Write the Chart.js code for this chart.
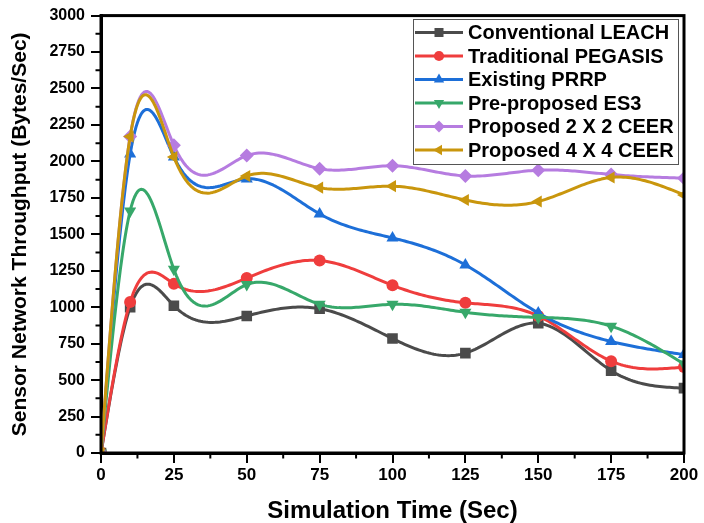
<!DOCTYPE html>
<html>
<head>
<meta charset="utf-8">
<script src="https://cdn.jsdelivr.net/npm/chart.js@4"></script>
<style>
  body { margin: 0; background: #fff; }
  #wrap { width: 704px; height: 523px; }
</style>
</head>
<body>
<div id="wrap"><canvas id="throughput-chart"></canvas></div>
<script>
const chartElement = document.getElementById('throughput-chart');

// simulation time (sec)
const timeLabels = [0, 10, 25, 50, 75, 100, 125, 150, 175, 200];

const leachValues   = [0, 1000, 1010, 940, 990, 785, 685, 890, 565, 445];
const pegasisValues = [0, 1035, 1160, 1200, 1320, 1150, 1030, 940, 630, 590];
const prrpValues    = [0, 2050, 2030, 1880, 1640, 1475, 1290, 960, 765, 675];
const es3Values     = [0, 1660, 1260, 1155, 1020, 1020, 965, 930, 870, 610];
const ceer2Values   = [0, 2170, 2110, 2040, 1950, 1970, 1900, 1940, 1910, 1885];
const ceer4Values   = [0, 2170, 2030, 1900, 1820, 1830, 1735, 1725, 1890, 1770];

const seriesNames = ['Conventional LEACH', 'Traditional PEGASIS', 'Existing PRRP',
  'Pre-proposed ES3', 'Proposed 2 X 2 CEER', 'Proposed 4 X 4 CEER'];

const FONT = "'Liberation Sans', Arial, sans-serif";

function makeSet(i, values, color, style, rotation, radius) {
  return {
    label: seriesNames[i],
    data: timeLabels.map((t, k) => ({x: t, y: values[k]})),
    borderColor: color,
    backgroundColor: color,
    pointStyle: style,
    rotation: rotation,
    pointRadius: radius,
    pointBorderWidth: 0,
    showLine: false,
    order: 6 - i,
  };
}

const data = {
  datasets: [
    makeSet(0, leachValues,   '#4b4b4b', 'rect', 0, 7.5),
    makeSet(1, pegasisValues, '#ef3d3d', 'circle', 0, 6),
    makeSet(2, prrpValues,    '#1d6fd8', 'triangle', 0, 7),
    makeSet(3, es3Values,     '#37a86a', 'triangle', 180, 7),
    makeSet(4, ceer2Values,   '#b67ce0', 'rectRot', 0, 7),
    makeSet(5, ceer4Values,   '#c9960d', 'triangle', -90, 7),
  ]
};

// natural cubic spline through the data, drawn with the chart's scales
function splineCoeffs(xs, ys) {
  const n = xs.length;
  const h = [], m = new Array(n).fill(0);
  for (let i = 0; i < n - 1; i++) h.push(xs[i + 1] - xs[i]);
  const a = [], b = [], c = [], d = [];
  for (let i = 1; i < n - 1; i++) {
    a.push(h[i - 1]);
    b.push(2 * (h[i - 1] + h[i]));
    c.push(h[i]);
    d.push(6 * ((ys[i + 1] - ys[i]) / h[i] - (ys[i] - ys[i - 1]) / h[i - 1]));
  }
  const k = b.length;
  for (let i = 1; i < k; i++) {
    const w = a[i] / b[i - 1];
    b[i] -= w * c[i - 1];
    d[i] -= w * d[i - 1];
  }
  const sol = new Array(k);
  for (let i = k - 1; i >= 0; i--) {
    sol[i] = (d[i] - (i < k - 1 ? c[i] * sol[i + 1] : 0)) / b[i];
  }
  for (let i = 0; i < k; i++) m[i + 1] = sol[i];
  return {h, m};
}

const splinePlugin = {
  id: 'splineLines',
  beforeDatasetDraw(chart, args) {
    const ds = chart.data.datasets[args.index];
    const xs = ds.data.map(p => p.x), ys = ds.data.map(p => p.y);
    const {h, m} = splineCoeffs(xs, ys);
    const sx = chart.scales.x, sy = chart.scales.y;
    const ctx = chart.ctx, area = chart.chartArea;
    ctx.save();
    ctx.beginPath();
    ctx.rect(area.left, area.top, area.right - area.left, area.bottom - area.top);
    ctx.clip();
    ctx.beginPath();
    ctx.lineWidth = 3;
    ctx.lineJoin = 'round';
    ctx.strokeStyle = ds.borderColor;
    for (let i = 0; i < xs.length - 1; i++) {
      const steps = 30;
      for (let s = 0; s <= steps; s++) {
        const t = xs[i] + h[i] * s / steps;
        const A = (xs[i + 1] - t) / h[i], B = (t - xs[i]) / h[i];
        const y = A * ys[i] + B * ys[i + 1] +
          ((A * A * A - A) * m[i] + (B * B * B - B) * m[i + 1]) * h[i] * h[i] / 6;
        const px = sx.getPixelForValue(t), py = sy.getPixelForValue(y);
        if (i === 0 && s === 0) ctx.moveTo(px, py); else ctx.lineTo(px, py);
      }
    }
    ctx.stroke();
    ctx.restore();
  }
};

const framePlugin = {
  id: 'frameAndLegend',
  afterDraw(chart) {
    const ctx = chart.ctx, a = chart.chartArea;
    const sx = chart.scales.x, sy = chart.scales.y;
    ctx.save();
    // minor ticks
    ctx.strokeStyle = '#000';
    ctx.lineWidth = 2;
    ctx.beginPath();
    for (let i = 0; i < sx.ticks.length - 1; i++) {
      const px = sx.getPixelForValue((sx.ticks[i].value + sx.ticks[i + 1].value) / 2);
      ctx.moveTo(px, a.bottom); ctx.lineTo(px, a.bottom + 5.5);
    }
    for (let i = 0; i < sy.ticks.length - 1; i++) {
      const py = sy.getPixelForValue((sy.ticks[i].value + sy.ticks[i + 1].value) / 2);
      ctx.moveTo(a.left, py); ctx.lineTo(a.left - 5.5, py);
    }
    ctx.stroke();
    // frame
    ctx.lineWidth = 3;
    ctx.strokeRect(a.left, a.top, a.right - a.left, a.bottom - a.top);

    // legend
    const bx = 413, by = 19, bw = 265, bh = 145;
    ctx.fillStyle = '#fff';
    ctx.fillRect(bx, by, bw, bh);
    ctx.lineWidth = 1;
    ctx.strokeStyle = '#555';
    ctx.strokeRect(bx + 0.5, by + 0.5, bw, bh);
    ctx.font = 'bold 20px ' + FONT;
    ctx.textBaseline = 'middle';
    chart.data.datasets.forEach((ds, i) => {
      const y = by + 13.5 + i * 23.5;
      ctx.strokeStyle = ds.borderColor;
      ctx.lineWidth = 3;
      ctx.beginPath();
      ctx.moveTo(bx + 2, y); ctx.lineTo(bx + 50, y);
      ctx.stroke();
      ctx.fillStyle = ds.backgroundColor;
      Chart.helpers.drawPoint(ctx, {
        pointStyle: ds.pointStyle, rotation: ds.rotation,
        radius: ds.pointRadius * 0.85, borderWidth: 0
      }, bx + 26, y);
      ctx.fillStyle = '#000';
      ctx.fillText(ds.label, bx + 55, y + 1);
    });
    ctx.restore();
  }
};

const config = {
  type: 'scatter',
  data: data,
  plugins: [splinePlugin, framePlugin],
  options: {
    responsive: false,
    animation: false,
    layout: { padding: { left: 5, top: 15, right: 20, bottom: 0 } },
    plugins: {
      legend: { display: false },
      tooltip: { enabled: false },
    },
    scales: {
      x: {
        type: 'linear',
        min: 0,
        max: 200,
        afterFit: s => { s.height = 70; },
        border: { display: true, color: '#000', width: 3 },
        grid: { drawOnChartArea: false, drawTicks: true, tickLength: 10, color: '#000', lineWidth: 2 },
        ticks: {
          stepSize: 25,
          color: '#000',
          padding: 2,
          maxRotation: 0,
          font: { family: FONT, size: 17, weight: 'bold' },
        },
        title: {
          display: true,
          text: 'Simulation Time (Sec)',
          color: '#000',
          padding: { top: 0, bottom: 0 },
          font: { family: FONT, size: 24, weight: 'bold', lineHeight: 1 },
        },
      },
      y: {
        min: 0,
        max: 3000,
        afterFit: s => { s.width = 96; },
        border: { display: true, color: '#000', width: 3 },
        grid: { drawOnChartArea: false, drawTicks: true, tickLength: 10, color: '#000', lineWidth: 2 },
        ticks: {
          stepSize: 250,
          color: '#000',
          padding: 6,
          callback: v => String(v),
          font: { family: FONT, size: 16, weight: 'bold' },
        },
        title: {
          display: true,
          text: 'Sensor Network Throughput (Bytes/Sec)',
          color: '#000',
          padding: { top: 3, bottom: 0 },
          font: { family: FONT, size: 21, weight: 'bold' },
        },
      },
    },
  },
};

chartElement.width = 704;
chartElement.height = 523;
const chart = new Chart(chartElement, config);
</script>
</body>
</html>
